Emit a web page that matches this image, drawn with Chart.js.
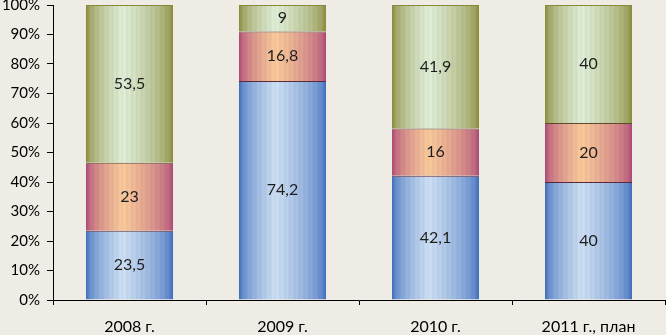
<!DOCTYPE html>
<html>
<head>
<meta charset="utf-8">
<script src="https://cdn.jsdelivr.net/npm/chart.js@4/dist/chart.umd.min.js"></script>
<style>
  html, body { margin: 0; padding: 0; background: #efece6; }
  #wrap { width: 666px; height: 335px; }
</style>
</head>
<body>
<div id="wrap"><canvas id="chart"></canvas></div>
<script>
// categories and values
const years = ['2008 г.', '2009 г.', '2010 г.', '2011 г., план'];
const blueValues = [23.5, 74.2, 42.1, 40];
const redValues = [23, 16.8, 16, 20];
const greenValues = [53.5, 9, 41.9, 40];
const yTicks = [0, 10, 20, 30, 40, 50, 60, 70, 80, 90, 100];

const BAR_PCT = 0.57;
const FONT = 'Lato';

function hexToRgb(h) {
    return [parseInt(h.slice(1, 3), 16), parseInt(h.slice(3, 5), 16), parseInt(h.slice(5, 7), 16)];
}

// gradient across the bar: dark edges, light middle, with faint vertical stripes
function barFill(edge, center) {
    const e = hexToRgb(edge), c = hexToRgb(center);
    return function (ctx) {
        const chart = ctx.chart;
        const xs = chart.scales.x;
        if (!xs || !chart.chartArea) return edge;
        const cx = xs.getPixelForValue(ctx.dataIndex);
        const w = xs.width / years.length * BAR_PCT;
        const g = chart.ctx.createLinearGradient(cx - w / 2, 0, cx + w / 2, 0);
        const n = 36;
        for (let i = 0; i <= n; i++) {
            const t = i / n;
            let p = t < 0.42 ? t / 0.42 : (1 - t) / 0.58;
            p = Math.pow(Math.max(0, p), 0.55);
            const k = (i % 2 === 0) ? 1 : 0.95;
            const rgb = e.map((v, j) => Math.round((v + (c[j] - v) * p) * k));
            g.addColorStop(t, 'rgb(' + rgb.join(',') + ')');
        }
        return g;
    };
}

const valueLabels = {
    id: 'valueLabels',
    afterDatasetsDraw(chart) {
        const ctx = chart.ctx;
        ctx.save();
        ctx.font = '16px ' + FONT;
        ctx.fillStyle = '#1e1e1e';
        ctx.textAlign = 'center';
        ctx.textBaseline = 'middle';
        chart.data.datasets.forEach((ds, di) => {
            chart.getDatasetMeta(di).data.forEach((el, i) => {
                const txt = String(ds.data[i]).replace('.', ',');
                ctx.fillText(txt, el.x, (el.y + el.base) / 2);
            });
        });
        ctx.restore();
    }
};

new Chart(document.getElementById('chart'), {
    type: 'bar',
    data: {
        labels: years,
        datasets: [
            {
                data: blueValues,
                backgroundColor: barFill('#3b6cbf', '#cfe2f7'),
                borderColor: '#5a2838',
                borderWidth: { top: 1, left: 0, right: 0, bottom: 0 },
                borderSkipped: false
            },
            {
                data: redValues,
                backgroundColor: barFill('#ad4678', '#fdcc9c'),
                borderColor: '#5e4a28',
                borderWidth: { top: 1, left: 0, right: 0, bottom: 0 },
                borderSkipped: false
            },
            {
                data: greenValues,
                backgroundColor: barFill('#8a8a36', '#e2f1da'),
                borderColor: '#8a8a36',
                borderWidth: { top: 1, left: 0, right: 0, bottom: 0 },
                borderSkipped: false
            }
        ]
    },
    options: {
        responsive: true,
        maintainAspectRatio: false,
        animation: false,
        layout: { padding: { top: 5, right: 1, left: 0, bottom: 0 } },
        datasets: { bar: { categoryPercentage: 1, barPercentage: BAR_PCT } },
        plugins: {
            legend: { display: false },
            tooltip: { enabled: false }
        },
        scales: {
            x: {
                stacked: true,
                grid: { offset: true, drawOnChartArea: false, color: '#000', tickLength: 5, tickColor: '#000' },
                border: { color: '#000', width: 1 },
                ticks: { color: '#000', font: { family: FONT, size: 16 }, padding: 12 },
                afterFit(scale) { scale.height = 35; }
            },
            y: {
                stacked: true,
                min: 0,
                max: 100,
                grid: { drawOnChartArea: false, color: '#000', tickLength: 6, tickColor: '#000' },
                border: { color: '#000', width: 1 },
                afterBuildTicks(scale) { scale.ticks = yTicks.map(v => ({ value: v })); },
                ticks: {
                    color: '#000',
                    font: { family: FONT, size: 15 },
                    padding: 7,
                    callback: v => v + '%'
                },
                afterFit(scale) {
                    scale.width = 53;
                    scale.paddingTop = 0;
                    scale.paddingBottom = 0;
                }
            }
        }
    },
    plugins: [valueLabels]
});
</script>
</body>
</html>
